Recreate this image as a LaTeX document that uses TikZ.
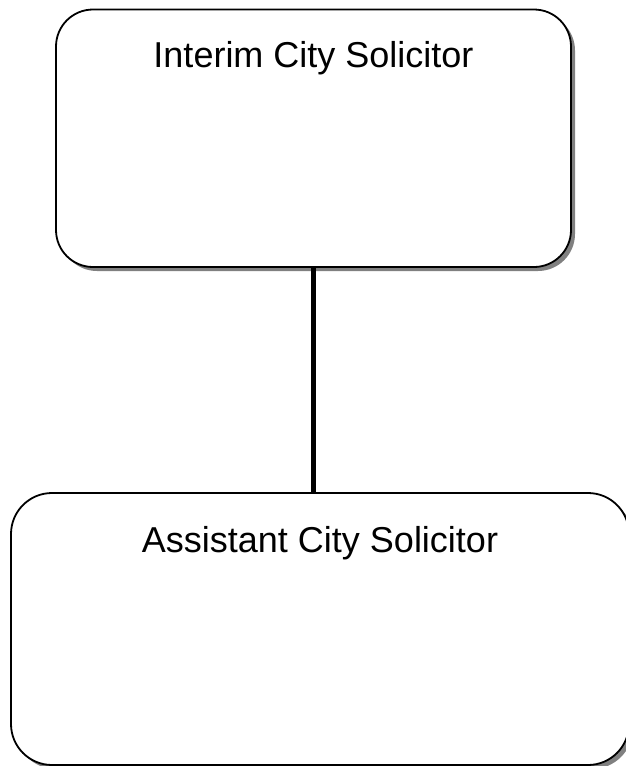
\documentclass[tikz,border=0pt]{standalone}
\usepackage{fontspec}
\setmainfont{Liberation Sans}
\usetikzlibrary{shadows}
\begin{document}
\begin{tikzpicture}[x=1pt,y=-1pt,
  orgbox/.style={draw=black, line width=1.8pt, fill=white, rectangle,
    inner sep=0pt, align=center,
    font=\fontsize{36}{42}\selectfont,
    drop shadow={shadow xshift=4pt, shadow yshift=-4pt, fill=black!50, opacity=1}},
  link/.style={line width=5pt, draw=black}]
  \useasboundingbox (0,0) rectangle (626,766);
  % upper position
  \node[orgbox, rounded corners=37pt, minimum width=515pt,
        text height=57.8pt, text depth=199.7pt] (chief) at (313.5,138.25)
        {Interim City Solicitor};
  % lower position
  \node[orgbox, rounded corners=41pt, minimum width=618pt,
        text height=59.3pt, text depth=212.7pt] (asst) at (320,629)
        {Assistant City Solicitor};
  % reporting line
  \draw[link] (chief.south) -- (chief.south |- asst.north);
\end{tikzpicture}
\end{document}
